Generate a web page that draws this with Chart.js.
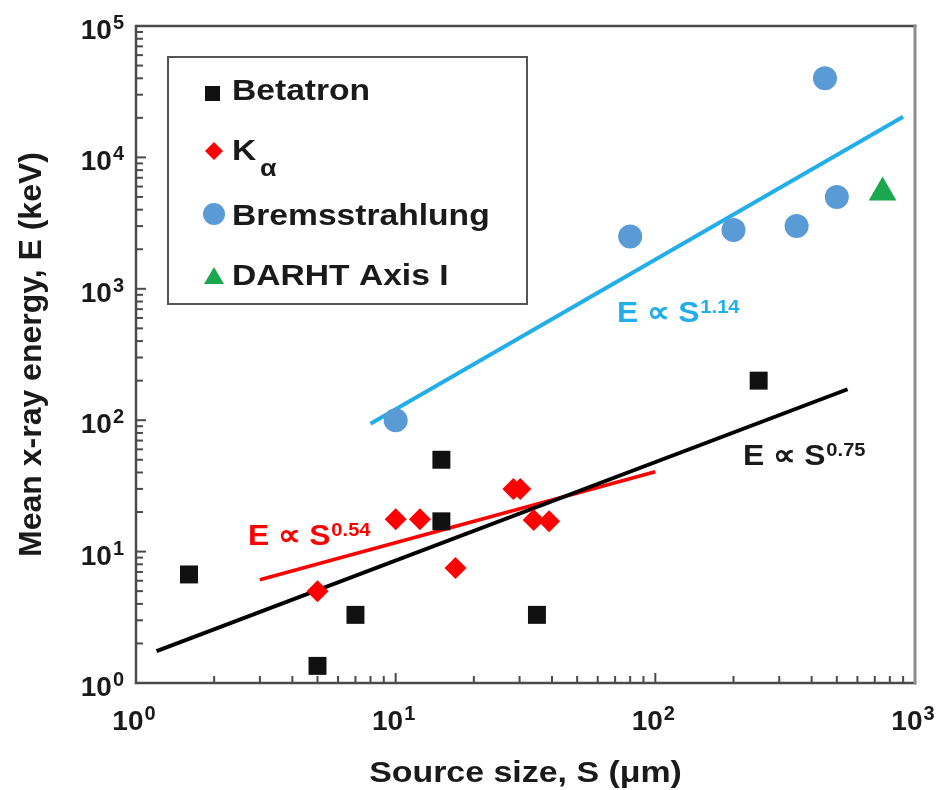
<!DOCTYPE html>
<html>
<head>
<meta charset="utf-8">
<title>Mean x-ray energy vs source size</title>
<script src="https://cdn.jsdelivr.net/npm/chart.js@4.4.1/dist/chart.umd.min.js"></script>
<style>
  html, body { margin: 0; padding: 0; background: #fff; }
  #wrap { width: 945px; height: 790px; position: relative; }
</style>
</head>
<body>
<div id="wrap"><canvas id="chart"></canvas></div>
<script>
// measured points, source size S (um) vs mean x-ray energy E (keV)
var betatronX = [1.6, 5, 7, 15, 15, 35, 250];
var betatronY = [6.7, 1.35, 3.3, 50, 17, 3.3, 200];

var kalphaX = [5, 10, 12.4, 17, 28.4, 30.2, 34, 39];
var kalphaY = [5, 17.6, 17.6, 7.5, 30, 30, 17.4, 17];

var bremsX = [10, 80, 200, 350, 450, 500];
var bremsY = [100, 2500, 2800, 3000, 40000, 5000];

var darhtX = [750];
var darhtY = [5400];

// power-law fits (end points of the drawn lines)
var fitBetaX = [1.2, 550];
var fitBetaY = [1.75, 172];
var fitKaX = [3, 100];
var fitKaY = [6.1, 40.5];
var fitBremX = [8, 900];
var fitBremY = [94, 20400];

var xTickExp = [0, 1, 2, 3];
var yTickExp = [0, 1, 2, 3, 4, 5];

var FONT = '"Liberation Sans", Arial, sans-serif';
var AXIS = '#4a4a4a';

function pts(xs, ys) {
  return xs.map(function(x, i) { return { x: x, y: ys[i] }; });
}

function textW(ctx, txt, size) {
  ctx.font = 'bold ' + size + 'px ' + FONT;
  return ctx.measureText(txt).width;
}

function drawText(ctx, txt, left, base, size, color, sx) {
  ctx.save();
  ctx.font = 'bold ' + size + 'px ' + FONT;
  ctx.fillStyle = color;
  ctx.textAlign = 'left';
  ctx.textBaseline = 'alphabetic';
  ctx.translate(left, base);
  ctx.scale(sx, 1);
  ctx.fillText(txt, 0, 0);
  ctx.restore();
}

// text with a superscript; align is 'left', 'center' or 'right'
function drawPower(ctx, main, sup, x, base, size, supSize, color, align, sx, rise) {
  var w1 = textW(ctx, main, size) * sx;
  var w2 = textW(ctx, sup, supSize) * sx;
  var gap = 1;
  var total = w1 + gap + w2;
  var left = x;
  if (align === 'center') left = x - total / 2;
  if (align === 'right') left = x - total;
  drawText(ctx, main, left, base, size, color, sx);
  drawText(ctx, sup, left + w1 + gap, base - rise, supSize, color, sx);
}

var decor = {
  id: 'decor',
  afterDraw: function(chart) {
    var ctx = chart.ctx;
    var a = chart.chartArea;
    var xs = chart.scales.x, ys = chart.scales.y;

    // frame
    ctx.save();
    ctx.lineCap = 'square';
    ctx.strokeStyle = AXIS;
    ctx.lineWidth = 2.5;
    ctx.beginPath();
    ctx.moveTo(a.right, a.top);
    ctx.lineTo(a.left, a.top);
    ctx.lineTo(a.left, a.bottom);
    ctx.lineTo(a.right, a.bottom);
    ctx.stroke();
    ctx.strokeStyle = '#8c8c8c';
    ctx.lineWidth = 3;
    ctx.beginPath();
    ctx.moveTo(a.right, a.top);
    ctx.lineTo(a.right, a.bottom);
    ctx.stroke();

    // inward ticks, log minor ticks
    ctx.strokeStyle = AXIS;
    ctx.lineWidth = 2;
    ctx.lineCap = 'butt';
    var d, k, v, p, len;
    for (d = 0; d <= 3; d++) {
      for (k = 1; k <= 9; k++) {
        v = k * Math.pow(10, d);
        if (v > 1000) break;
        p = xs.getPixelForValue(v);
        len = k === 1 ? 10 : 7;
        if (k === 1 && (d === 0 || d === 3)) continue;
        ctx.beginPath();
        ctx.moveTo(p, a.bottom);
        ctx.lineTo(p, a.bottom - len);
        ctx.stroke();
      }
    }
    for (d = 0; d <= 5; d++) {
      for (k = 1; k <= 9; k++) {
        v = k * Math.pow(10, d);
        if (v > 100000) break;
        p = ys.getPixelForValue(v);
        len = k === 1 ? 10 : 7;
        if (k === 1 && (d === 0 || d === 5)) continue;
        ctx.beginPath();
        ctx.moveTo(a.left, p);
        ctx.lineTo(a.left + len, p);
        ctx.stroke();
      }
    }
    ctx.restore();

    // tick labels
    xTickExp.forEach(function(e) {
      var p = xs.getPixelForValue(Math.pow(10, e));
      drawPower(ctx, '10', String(e), p - 2, 730, 28, 20, '#1a1a1a', 'center', 1, 10);
    });
    yTickExp.forEach(function(e) {
      var p = ys.getPixelForValue(Math.pow(10, e));
      drawPower(ctx, '10', String(e), 124, p + 13, 28, 20, '#1a1a1a', 'right', 1, 10);
    });

    // axis titles
    var t = 'Source size, S (\u03bcm)';
    var tw = textW(ctx, t, 30) * 1.13;
    drawText(ctx, t, (a.left + a.right) / 2 - tw / 2, 782, 30, '#1a1a1a', 1.13);

    ctx.save();
    ctx.translate(41, (a.top + a.bottom) / 2);
    ctx.rotate(-Math.PI / 2);
    ctx.font = 'bold 32px ' + FONT;
    ctx.fillStyle = '#1a1a1a';
    ctx.textAlign = 'center';
    ctx.textBaseline = 'alphabetic';
    ctx.fillText('Mean x-ray energy, E (keV)', 0, 0);
    ctx.restore();

    // fit annotations
    drawPower(ctx, 'E \u221d S', '1.14', 617, 322, 30, 19, '#22aee8', 'left', 1.06, 9);
    drawPower(ctx, 'E \u221d S', '0.75', 743, 465, 30, 19, '#1a1a1a', 'left', 1.06, 9);
    drawPower(ctx, 'E \u221d S', '0.54', 248, 545, 30, 19, '#ff0000', 'left', 1.06, 9);

    // legend box
    ctx.save();
    ctx.fillStyle = '#fff';
    ctx.fillRect(168, 57, 359, 247);
    ctx.strokeStyle = '#555';
    ctx.lineWidth = 2;
    ctx.strokeRect(168, 57, 359, 247);

    ctx.fillStyle = '#111';
    ctx.fillRect(205, 86, 15, 15);

    ctx.fillStyle = '#ff0000';
    ctx.beginPath();
    ctx.moveTo(214, 142);
    ctx.lineTo(223, 151);
    ctx.lineTo(214, 160);
    ctx.lineTo(205, 151);
    ctx.closePath();
    ctx.fill();

    ctx.fillStyle = '#5b9bd5';
    ctx.beginPath();
    ctx.arc(214, 214, 11, 0, Math.PI * 2);
    ctx.fill();

    ctx.fillStyle = '#1aa84f';
    ctx.beginPath();
    ctx.moveTo(214, 267);
    ctx.lineTo(224, 284);
    ctx.lineTo(204, 284);
    ctx.closePath();
    ctx.fill();
    ctx.restore();

    drawText(ctx, 'Betatron', 232, 100, 30, '#1a1a1a', 1.12);
    drawText(ctx, 'K', 232, 160, 30, '#1a1a1a', 1.12);
    drawText(ctx, '\u03b1', 260, 176, 24, '#1a1a1a', 1.12);
    drawText(ctx, 'Bremsstrahlung', 232, 225, 30, '#1a1a1a', 1.12);
    drawText(ctx, 'DARHT Axis I', 232, 285, 30, '#1a1a1a', 1.12);
  }
};

var lineStyle = { showLine: true, pointRadius: 0, borderWidth: 4, fill: false, order: 10 };

var datasets = [
  Object.assign({ label: 'fit betatron', data: pts(fitBetaX, fitBetaY), borderColor: '#000' }, lineStyle),
  Object.assign({ label: 'fit kalpha', data: pts(fitKaX, fitKaY), borderColor: '#ff0000' }, lineStyle, { borderWidth: 3.5 }),
  Object.assign({ label: 'fit brems', data: pts(fitBremX, fitBremY), borderColor: '#22aee8' }, lineStyle),
  {
    label: 'Betatron', data: pts(betatronX, betatronY),
    pointStyle: 'rect', pointRadius: 12.7, backgroundColor: '#111', borderWidth: 0, order: 1
  },
  {
    label: 'K\u03b1', data: pts(kalphaX, kalphaY),
    pointStyle: 'rectRot', pointRadius: 11, backgroundColor: '#ff0000', borderWidth: 0, order: 2
  },
  {
    label: 'Bremsstrahlung', data: pts(bremsX, bremsY),
    pointStyle: 'circle', pointRadius: 12, backgroundColor: '#5b9bd5', borderWidth: 0, order: 3
  },
  {
    label: 'DARHT Axis I', data: pts(darhtX, darhtY),
    pointStyle: 'triangle', pointRadius: 16, backgroundColor: '#1aa84f', borderWidth: 0, order: 4
  }
];

new Chart(document.getElementById('chart'), {
  type: 'scatter',
  data: { datasets: datasets },
  options: {
    responsive: true,
    maintainAspectRatio: false,
    animation: false,
    layout: { padding: { left: 136, top: 26, right: 30, bottom: 107 } },
    plugins: { legend: { display: false }, tooltip: { enabled: false } },
    scales: {
      x: { type: 'logarithmic', min: 1, max: 1000, display: false },
      y: { type: 'logarithmic', min: 1, max: 100000, display: false }
    }
  },
  plugins: [decor]
});
</script>
</body>
</html>
